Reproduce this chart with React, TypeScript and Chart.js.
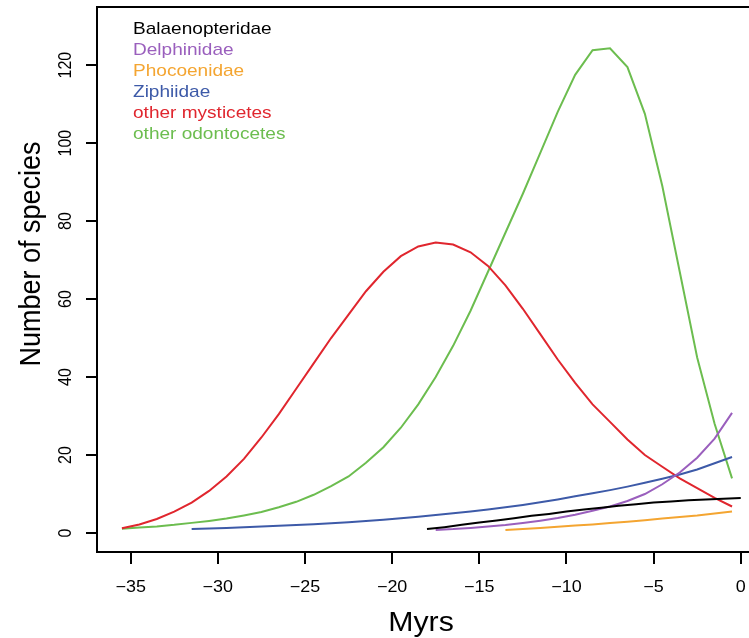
import { useEffect, useRef } from "react";
import { Chart, registerables } from "chart.js";

Chart.register(...registerables);

// Axis ticks
const xTickValues = [-35, -30, -25, -20, -15, -10, -5, 0];
const yTickValues = [0, 20, 40, 60, 80, 100, 120];

// Diversity through time (Myrs before present) per clade
const agesFull = [
  -35.5, -34.5, -33.5, -32.5, -31.5, -30.5, -29.5, -28.5, -27.5, -26.5, -25.5, -24.5,
  -23.5, -22.5, -21.5, -20.5, -19.5, -18.5, -17.5, -16.5, -15.5, -14.5, -13.5, -12.5,
  -11.5, -10.5, -9.5, -8.5, -7.5, -6.5, -5.5, -4.5, -3.5, -2.5, -1.5, -0.5,
];
const otherOdontocetes = [
  1.1, 1.4, 1.7, 2.1, 2.6, 3.1, 3.7, 4.5, 5.4, 6.6, 8.0, 9.8,
  12.0, 14.5, 18.0, 22.0, 27.0, 33.0, 40.0, 48.0, 57.0, 67.0, 77.0, 87.0,
  97.5, 108.0, 117.5, 123.8, 124.3, 119.5, 107.5, 89.0, 67.0, 45.0, 28.0, 14.0,
];
const otherMysticetes = [
  1.2, 2.2, 3.6, 5.5, 7.8, 10.8, 14.5, 19.0, 24.5, 30.5, 37.0, 43.5,
  50.0, 56.0, 62.0, 67.0, 71.0, 73.5, 74.5, 74.0, 72.0, 68.5, 63.5, 57.5,
  51.0, 44.5, 38.5, 33.0, 28.5, 24.0, 20.0, 17.0, 14.0, 11.5, 9.0, 6.8,
];
const agesZiphiidae = [
  -31.5, -30.5, -29.5, -28.5, -27.5, -26.5, -25.5, -24.5, -23.5, -22.5, -21.5, -20.5,
  -19.5, -18.5, -17.5, -16.5, -15.5, -14.5, -13.5, -12.5, -11.5, -10.5, -9.5, -8.5,
  -7.5, -6.5, -5.5, -4.5, -3.5, -2.5, -1.5, -0.5,
];
const ziphiidae = [
  1.0, 1.15, 1.3, 1.45, 1.65, 1.85, 2.05, 2.25, 2.5, 2.75, 3.05, 3.4,
  3.8, 4.2, 4.6, 5.05, 5.5, 6.05, 6.6, 7.2, 7.9, 8.6, 9.4, 10.2,
  11.0, 11.9, 12.9, 13.9, 15.0, 16.3, 17.9, 19.5,
];
const agesDelphinidae = [
  -17.5, -16.5, -15.5, -14.5, -13.5, -12.5, -11.5, -10.5, -9.5, -8.5, -7.5, -6.5,
  -5.5, -4.5, -3.5, -2.5, -1.5, -0.5,
];
const delphinidae = [
  0.8, 1.0, 1.3, 1.65, 2.05, 2.55, 3.15, 3.85, 4.7, 5.7, 6.8, 8.2,
  10.0, 12.5, 15.5, 19.3, 24.2, 30.8,
];
const agesPhocoenidae = [
  -13.5, -12.5, -11.5, -10.5, -9.5, -8.5, -7.5, -6.5, -5.5, -4.5, -3.5, -2.5, -1.5, -0.5,
];
const phocoenidae = [0.8, 1.05, 1.3, 1.6, 1.9, 2.2, 2.55, 2.9, 3.3, 3.7, 4.1, 4.5, 5.0, 5.5];
const agesBalaenopteridae = [
  -18, -17, -16, -15, -14, -13, -12, -11, -10, -9, -8, -7, -6, -5, -4, -3, -2, -1, 0,
];
const balaenopteridae = [
  1.0, 1.5, 2.1, 2.7, 3.2, 3.8, 4.4, 4.9, 5.5, 6.0, 6.5, 7.0, 7.4, 7.8, 8.1, 8.4, 8.6, 8.8, 8.95,
];

const seriesNames = [
  "Balaenopteridae",
  "Delphinidae",
  "Phocoenidae",
  "Ziphiidae",
  "other mysticetes",
  "other odontocetes",
];
const seriesColors = ["#000000", "#9a5fbd", "#f4a531", "#3d5aa8", "#e0262e", "#6cbd4f"];
const seriesAges = [
  agesBalaenopteridae,
  agesDelphinidae,
  agesPhocoenidae,
  agesZiphiidae,
  agesFull,
  agesFull,
];
const seriesValues = [
  balaenopteridae,
  delphinidae,
  phocoenidae,
  ziphiidae,
  otherMysticetes,
  otherOdontocetes,
];

const CANVAS_W = 780;
const CANVAS_H = 638;
const FONT = '"Liberation Sans", Arial, Helvetica, sans-serif';
const STRETCH = 1.12;

function drawText(
  ctx: CanvasRenderingContext2D,
  text: string,
  x: number,
  y: number,
  size: number,
  color: string,
  align: CanvasTextAlign,
  baseline: CanvasTextBaseline,
  rotate = false
) {
  ctx.save();
  ctx.translate(x, y);
  ctx.scale(STRETCH, 1);
  if (rotate) ctx.rotate(-Math.PI / 2);
  ctx.font = `${size}px ${FONT}`;
  ctx.fillStyle = color;
  ctx.textAlign = align;
  ctx.textBaseline = baseline;
  ctx.fillText(text, 0, 0);
  ctx.restore();
}

const annotations = {
  id: "rStyleAnnotations",
  afterDraw(chart: any) {
    const { ctx, chartArea, scales } = chart;
    ctx.save();
    // plot frame
    ctx.strokeStyle = "#000";
    ctx.lineWidth = 2;
    ctx.strokeRect(
      chartArea.left,
      chartArea.top,
      chartArea.right - chartArea.left,
      chartArea.bottom - chartArea.top
    );
    ctx.restore();

    // tick labels
    for (const v of xTickValues) {
      const px = scales.x.getPixelForValue(v);
      const label = v < 0 ? `\u2212${Math.abs(v)}` : `${v}`;
      drawText(ctx, label, px, 592, 16, "#000", "center", "alphabetic");
    }
    for (const v of yTickValues) {
      const py = scales.y.getPixelForValue(v);
      drawText(ctx, `${v}`, 71, py, 16, "#000", "center", "alphabetic", true);
    }

    // axis titles
    drawText(ctx, "Myrs", 421, 631, 27, "#000", "center", "alphabetic");
    drawText(ctx, "Number of species", 40, 254, 27, "#000", "center", "alphabetic", true);

    // legend
    const legendTop = 29.5;
    const legendStep = 21;
    seriesNames.forEach((name, i) => {
      drawText(ctx, name, 133, legendTop + i * legendStep, 17, seriesColors[i], "left", "middle");
    });
  },
};

export default function App() {
  const canvasRef = useRef<HTMLCanvasElement | null>(null);

  useEffect(() => {
    const canvas = canvasRef.current;
    if (!canvas) return;

    const datasets = seriesNames.map((name, i) => ({
      label: name,
      data: seriesAges[i].map((a, j) => ({ x: a, y: seriesValues[i][j] })),
      borderColor: seriesColors[i],
      backgroundColor: seriesColors[i],
      borderWidth: 2,
      pointRadius: 0,
      tension: 0,
      fill: false,
    }));

    const chart = new Chart(canvas, {
      type: "line",
      data: { datasets },
      options: {
        animation: false,
        responsive: false,
        maintainAspectRatio: false,
        devicePixelRatio: 1,
        layout: { padding: { top: 7, right: CANVAS_W - 765.5, left: 0, bottom: 0 } },
        plugins: {
          legend: { display: false },
          tooltip: { enabled: false },
        },
        scales: {
          x: {
            type: "linear",
            min: -36.93,
            max: 1.42,
            afterBuildTicks: (s: any) => {
              s.ticks = xTickValues.map((v) => ({ value: v }));
            },
            afterFit: (s: any) => {
              s.height = 86;
              s.paddingLeft = 0;
              s.paddingRight = 0;
            },
            ticks: { display: false },
            grid: {
              drawOnChartArea: false,
              drawTicks: true,
              tickLength: 12,
              color: "#000",
              lineWidth: 2,
            },
            border: { display: false },
          },
          y: {
            type: "linear",
            min: -4.87,
            max: 134.9,
            afterBuildTicks: (s: any) => {
              s.ticks = yTickValues.map((v) => ({ value: v }));
            },
            afterFit: (s: any) => {
              s.width = 97;
              s.paddingTop = 0;
              s.paddingBottom = 0;
            },
            ticks: { display: false },
            grid: {
              drawOnChartArea: false,
              drawTicks: true,
              tickLength: 11,
              color: "#000",
              lineWidth: 2,
            },
            border: { display: false },
          },
        },
      },
      plugins: [annotations],
    });

    return () => chart.destroy();
  }, []);

  return (
    <div
      style={{
        position: "fixed",
        left: 0,
        top: 0,
        width: 749,
        height: 638,
        overflow: "hidden",
        background: "#fff",
      }}
    >
      <canvas
        ref={canvasRef}
        width={CANVAS_W}
        height={CANVAS_H}
        style={{ display: "block", width: CANVAS_W, height: CANVAS_H }}
      />
    </div>
  );
}
